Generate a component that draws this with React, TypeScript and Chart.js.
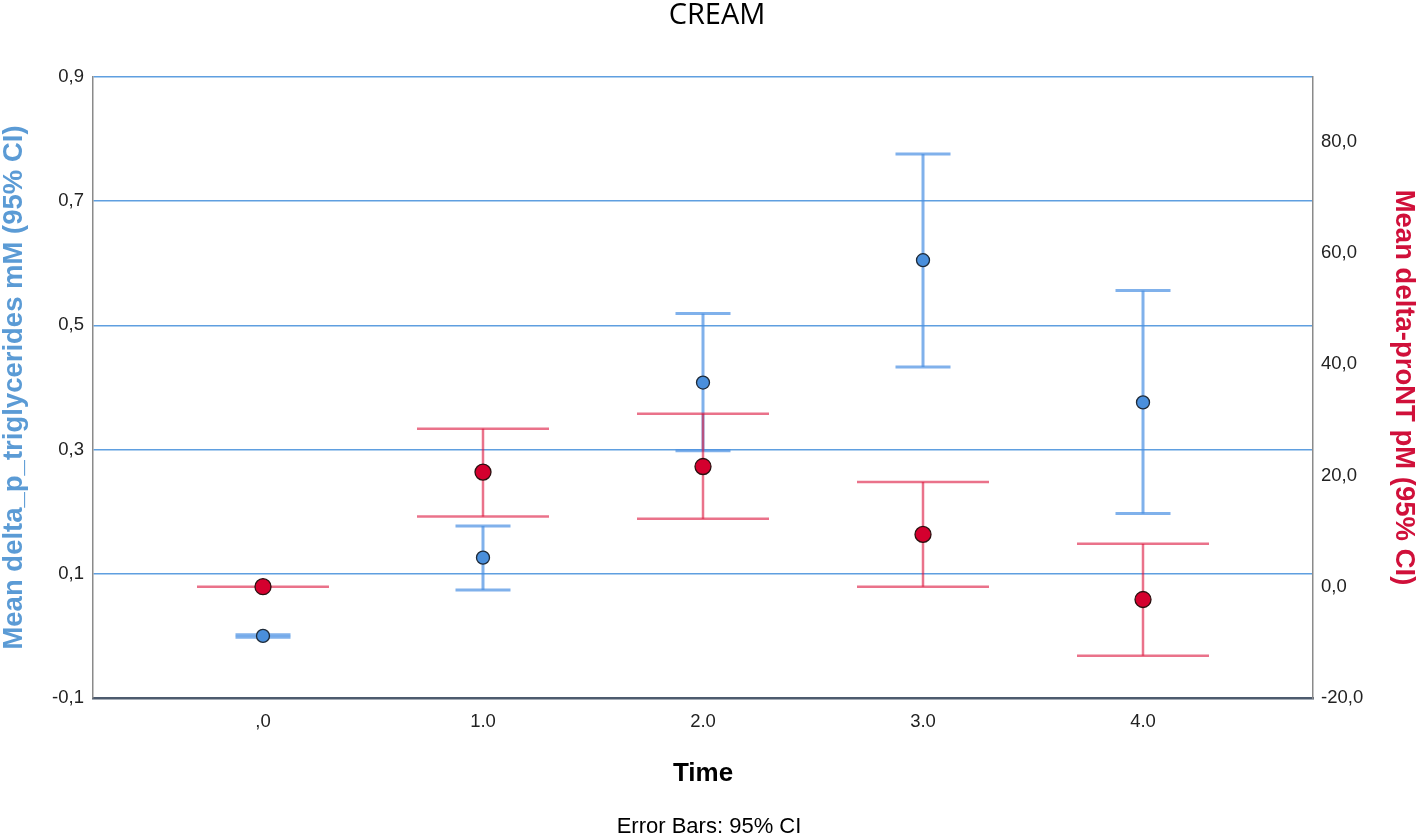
import React, { useEffect, useRef } from "react";
import { Chart, registerables } from "chart.js";

Chart.register(...registerables);

const timeValues = [0, 1, 2, 3, 4];
const timeLabels = [",0", "1.0", "2.0", "3.0", "4.0"];
const trigMean = [0.0, 0.126, 0.408, 0.605, 0.376];
const trigLower = [-0.002, 0.074, 0.298, 0.433, 0.197];
const trigUpper = [0.002, 0.177, 0.519, 0.776, 0.556];
const proNTMean = [0.0, 20.6, 21.6, 9.4, -2.3];
const proNTLower = [0.0, 12.6, 12.2, 0.0, -12.4];
const proNTUpper = [0.0, 28.4, 31.1, 18.8, 7.7];
const leftTicks = [-0.1, 0.1, 0.3, 0.5, 0.7, 0.9];
const rightTicks = [-20, 0, 20, 40, 60, 80];

const chartTitle = "CREAM";
const xTitle = "Time";
const leftTitle = "Mean delta_p_triglycerides mM (95% CI)";
const rightTitle = "Mean delta-proNT pM (95% CI)";
const footnote = "Error Bars: 95% CI";

const BLUE_BAR = "rgba(74,144,226,0.7)";
const RED_BAR = "rgba(220,20,60,0.6)";
const BLUE_PT = "#4a8fdc";
const RED_PT = "#d4002e";
const BLUE_TEXT = "#5b9bd5";
const RED_TEXT = "#d0103a";

const comma = (v: number) => v.toFixed(1).replace(".", ",");

const errorBars = {
  id: "errorBars",
  beforeDatasetsDraw(chart: any) {
    const ctx = chart.ctx;
    const xs = chart.scales.x;
    const draw = (
      scale: any,
      lo: number[],
      hi: number[],
      color: string,
      half: number,
      lw: number
    ) => {
      ctx.save();
      ctx.strokeStyle = color;
      ctx.lineWidth = lw;
      timeValues.forEach((t, i) => {
        const px = xs.getPixelForValue(t);
        const yl = scale.getPixelForValue(lo[i]);
        const yh = scale.getPixelForValue(hi[i]);
        ctx.beginPath();
        ctx.moveTo(px, yl);
        ctx.lineTo(px, yh);
        ctx.stroke();
        ctx.beginPath();
        ctx.moveTo(px - half, yl);
        ctx.lineTo(px + half, yl);
        ctx.stroke();
        if (Math.abs(yh - yl) > 1) {
          ctx.beginPath();
          ctx.moveTo(px - half, yh);
          ctx.lineTo(px + half, yh);
          ctx.stroke();
        }
      });
      ctx.restore();
    };
    draw(chart.scales.y, trigLower, trigUpper, BLUE_BAR, 27.5, 3);
    draw(chart.scales.y2, proNTLower, proNTUpper, RED_BAR, 66, 2.5);
  },
};

const texts = {
  id: "texts",
  afterDraw(chart: any) {
    const ctx = chart.ctx;
    const area = chart.chartArea;
    const cx = (area.left + area.right) / 2;
    ctx.save();
    ctx.fillStyle = "#000";
    ctx.textAlign = "center";
    ctx.textBaseline = "alphabetic";
    ctx.font = "29px 'Open Sans'";
    ctx.fillText(chartTitle, 717, 24);
    ctx.font = "bold 26px 'Liberation Sans'";
    ctx.fillText(xTitle, cx, 781);
    ctx.font = "22px 'Liberation Sans'";
    ctx.fillText(footnote, cx + 6, 833);
    const my = (area.top + area.bottom) / 2;
    ctx.font = "bold 27.5px 'Liberation Sans'";
    ctx.textBaseline = "middle";
    ctx.fillStyle = BLUE_TEXT;
    ctx.save();
    ctx.translate(14, my);
    ctx.rotate(-Math.PI / 2);
    ctx.fillText(leftTitle, 0, 0);
    ctx.restore();
    ctx.fillStyle = RED_TEXT;
    ctx.save();
    ctx.translate(1404, my);
    ctx.rotate(Math.PI / 2);
    ctx.fillText(rightTitle, 0, 0);
    ctx.restore();
    ctx.restore();
  },
};

export default function App() {
  const ref = useRef<HTMLCanvasElement | null>(null);
  useEffect(() => {
    if (!ref.current) return;
    const chart = new Chart(ref.current, {
      type: "scatter",
      data: {
        datasets: [
          {
            label: "triglycerides",
            data: timeValues.map((t, i) => ({ x: t, y: trigMean[i] })),
            yAxisID: "y",
            backgroundColor: BLUE_PT,
            borderColor: "#1e2a38",
            borderWidth: 1.3,
            pointRadius: 6.5,
          },
          {
            label: "proNT",
            data: timeValues.map((t, i) => ({ x: t, y: proNTMean[i] })),
            yAxisID: "y2",
            backgroundColor: RED_PT,
            borderColor: "#2a1010",
            borderWidth: 1.3,
            pointRadius: 8,
          },
        ],
      },
      options: {
        animation: false,
        responsive: false,
        maintainAspectRatio: false,
        events: [],
        layout: { padding: { top: 77, left: 0, right: 0, bottom: 0 } },
        plugins: {
          legend: { display: false },
          tooltip: { enabled: false },
          title: { display: false },
        },
        scales: {
          x: {
            type: "linear",
            position: "bottom",
            min: -0.7727,
            max: 4.7727,
            afterBuildTicks: (s: any) => {
              s.ticks = timeValues.map((v) => ({ value: v }));
            },
            afterFit: (s: any) => {
              s.height = 137;
            },
            ticks: {
              callback: (v: any) => timeLabels[timeValues.indexOf(Number(v))] ?? "",
              color: "#222",
              font: { family: "'Liberation Sans'", size: 18.5 },
              padding: 13,
              maxRotation: 0,
              autoSkip: false,
            },
            grid: { display: false, drawTicks: false },
            border: { display: true, color: "#4d5b6e", width: 2.5 },
          },
          y: {
            type: "linear",
            position: "left",
            min: -0.1,
            max: 0.9,
            afterBuildTicks: (s: any) => {
              s.ticks = leftTicks.map((v) => ({ value: v }));
            },
            afterFit: (s: any) => {
              s.width = 93;
            },
            ticks: {
              callback: (v: any) => comma(Number(v)),
              color: "#222",
              font: { family: "'Liberation Sans'", size: 18.5 },
              padding: 9,
            },
            grid: {
              color: (c: any) => (c.tick && c.tick.value < 0 ? "rgba(0,0,0,0)" : "#5f9fe0"),
              lineWidth: 1.6,
              drawTicks: false,
            },
            border: { display: true, color: "#8a8a8a", width: 1.5 },
          },
          y2: {
            type: "linear",
            position: "right",
            min: -20,
            max: 91.6,
            afterBuildTicks: (s: any) => {
              s.ticks = rightTicks.map((v) => ({ value: v }));
            },
            afterFit: (s: any) => {
              s.width = 105;
            },
            ticks: {
              callback: (v: any) => comma(Number(v)),
              color: "#222",
              font: { family: "'Liberation Sans'", size: 18.5 },
              padding: 8,
            },
            grid: { display: false, drawTicks: false },
            border: { display: true, color: "#8a8a8a", width: 1.5 },
          },
        },
      } as any,
      plugins: [errorBars, texts],
    });
    return () => chart.destroy();
  }, []);
  return (
    <div style={{ position: "absolute", left: 0, top: 0, width: 1418, height: 835, background: "#fff" }}>
      <canvas ref={ref} width={1418} height={835} style={{ width: 1418, height: 835, display: "block" }} />
    </div>
  );
}
